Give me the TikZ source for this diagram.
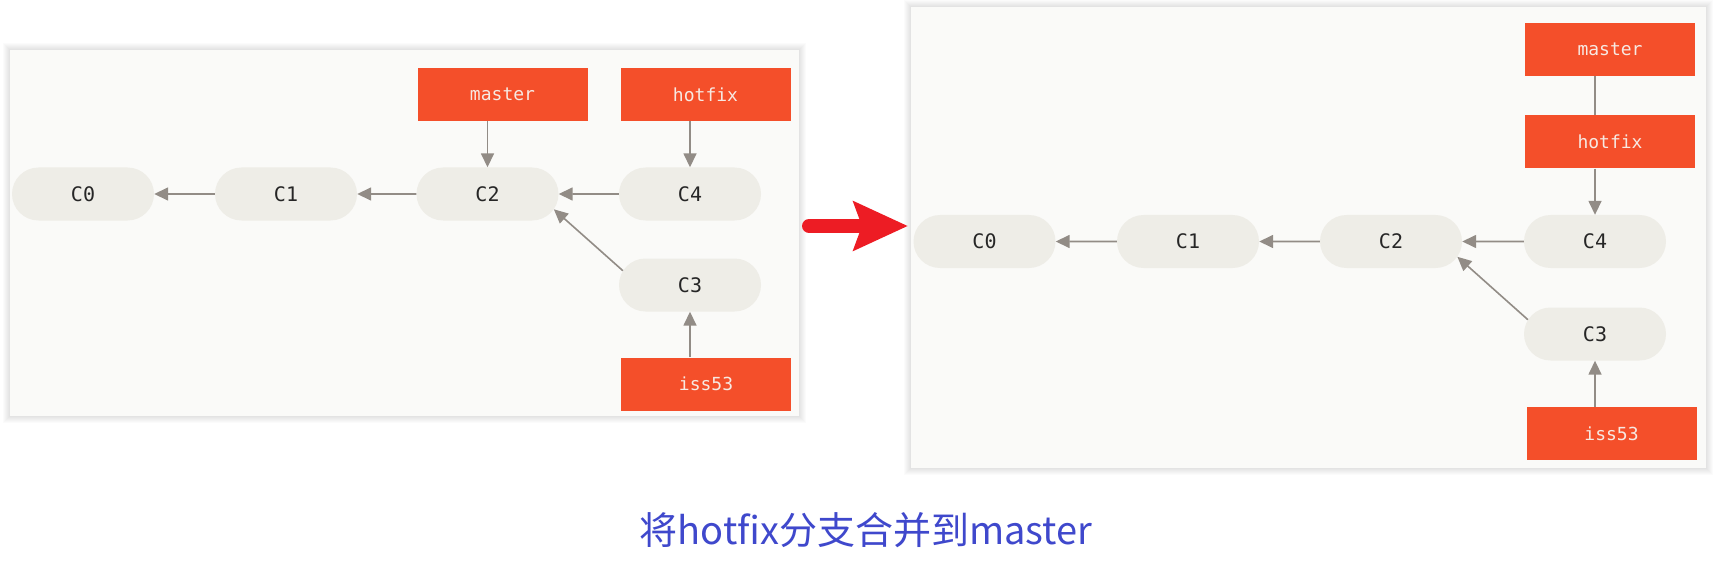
\documentclass[tikz,border=0pt]{standalone}
\usepackage{fontspec}
\setmonofont{DejaVu Sans Mono}
\newfontfamily\cjk{Noto Sans CJK SC}
\usepackage{tikz}
\usetikzlibrary{shapes.misc}
\usetikzlibrary{arrows.meta}
\definecolor{paper}{HTML}{FAFAF8}
\definecolor{commitfill}{HTML}{EEEDE7}
\definecolor{branchfill}{HTML}{F44F2A}
\definecolor{branchtext}{HTML}{F7E9E2}
\definecolor{linkgray}{HTML}{928C86}
\definecolor{bigred}{HTML}{ED1C24}
\definecolor{captionblue}{HTML}{3F48CC}
\tikzstyle{commit}=[rounded rectangle, fill=commitfill, minimum width=142pt, minimum height=53pt, inner sep=0pt, text=black!85, font=\ttfamily\fontsize{20}{24}\selectfont]
\tikzstyle{branch}=[rectangle, fill=branchfill, minimum width=170pt, minimum height=53pt, inner sep=0pt, text=branchtext, font=\ttfamily\fontsize{18}{22}\selectfont]
\tikzstyle{panel}=[rectangle, fill=paper, inner sep=0pt]
\tikzstyle{arrow}=[draw=linkgray, line width=1.6pt, -{Triangle[length=14pt,width=13pt]}]
\tikzstyle{link}=[draw=linkgray, line width=1.6pt]
\tikzstyle{bigarrow}=[draw=bigred, line width=14pt, line cap=round, -{Stealth[length=54pt,width=48pt,inset=8pt]}]
\tikzset{every picture/.style={
    x=1pt, y=-1pt
  }
}

\begin{document}
\begin{tikzpicture}
      \fill[white] (0,0) rectangle (1718,564);
      \useasboundingbox (0,0) rectangle (1718,564);
      % soft shadows round both panels
      \foreach \l/\t/\r/\b in {10/50/799/416, 911/7/1706/468}
        \foreach \s in {1,...,7}
          \fill[black, opacity=0.016] (\l-\s,\t-\s) rectangle (\r+\s,\b+\s);
      \node[panel, minimum width=789pt, minimum height=366pt] at (404.5,233) (before) {};
      \node[panel, minimum width=795pt, minimum height=461pt] at (1308.5,237.5) (after) {};

      % before the merge
      \node[commit] at (83,194) (c0) {C0};
      \node[commit] at (286,194) (c1) {C1};
      \node[commit] at (487.5,194) (c2) {C2};
      \node[commit] at (690,194) (c4) {C4};
      \node[commit] at (690,285) (c3) {C3};
      \node[branch] at (502.5,94.5) (master) {master};
      \node[branch] at (705.5,94.5) (hotfix) {hotfix};
      \node[branch] at (706,384) (iss) {iss53};
      \draw[arrow] (c1) -- (c0);
      \draw[arrow] (c2) -- (c1);
      \draw[arrow] (c4) -- (c2);
      \draw[arrow] (c3.168) -- (c2.-13);
      \draw[arrow] (master.south -| c2) -- (c2.north);
      \draw[arrow] (hotfix.south -| c4) -- (c4.north);
      \draw[arrow] (iss.north -| c3) -- (c3.south);

      % after the merge
      \node[commit] at (984.5,241.5) (d0) {C0};
      \node[commit] at (1188,241.5) (d1) {C1};
      \node[commit] at (1391,241.5) (d2) {C2};
      \node[commit] at (1595,241.5) (d4) {C4};
      \node[commit] at (1595,334) (d3) {C3};
      \node[branch] at (1610,49.5) (mastertwo) {master};
      \node[branch] at (1610,142) (hotfixtwo) {hotfix};
      \node[branch] at (1611.5,433.5) (isstwo) {iss53};
      \draw[arrow] (d1) -- (d0);
      \draw[arrow] (d2) -- (d1);
      \draw[arrow] (d4) -- (d2);
      \draw[arrow] (d3.168) -- (d2.-13);
      \draw[link] (mastertwo.south -| d4) -- (hotfixtwo.north -| d4);
      \draw[arrow] (hotfixtwo.south -| d4) -- (d4.north);
      \draw[arrow] (isstwo.north -| d3) -- (d3.south);

      \coordinate (tail) at (809,226);
      \coordinate (tip) at (908,226);
      \draw[bigarrow] (tail) -- (tip);

      \node[text=captionblue, font=\cjk\fontsize{38}{44}\selectfont] at (866,530) (caption) {将hotfix分支合并到master};
    \end{tikzpicture}
\end{document}
